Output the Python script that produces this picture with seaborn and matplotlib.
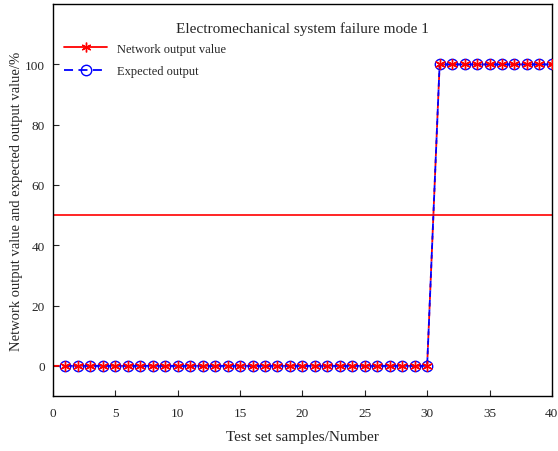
import numpy as np
import matplotlib
matplotlib.use("Agg")
import matplotlib.pyplot as plt
from matplotlib.lines import Line2D
import seaborn as sns

# data
samples = list(range(1, 41))
network_output = [0] * 30 + [100] * 10
expected_output = [0] * 30 + [100] * 10
threshold = 50

sns.set_style("ticks")
plt.rcParams['font.family'] = ['Liberation Serif', 'DejaVu Serif']

fig = plt.figure(figsize=(5.58, 4.52), dpi=100)
ax = fig.add_axes([0.095, 0.1217, 0.894, 0.867])

star = (6, 2, 0)

# network output line starts at 0 (no marker there)
net_x = [0] + samples
net_y = [0] + network_output
sns.lineplot(x=net_x, y=net_y, ax=ax, color="red", lw=1.3,
             linestyle="--", dashes=(5, 3), legend=False)
sns.lineplot(x=samples, y=expected_output, ax=ax, color="blue", lw=1.3,
             linestyle="--", dashes=(5, 3), marker="o", markersize=7.5,
             markerfacecolor="none", markeredgecolor="blue", markeredgewidth=1.0,
             legend=False)
# red markers on top
sns.scatterplot(x=samples, y=network_output, ax=ax, color="red", marker=star,
                s=50, linewidth=1.0, edgecolor="red", zorder=5, legend=False)
ax.axhline(threshold, color="red", lw=1.2)

ax.set_xlim(0, 40)
ax.set_ylim(-10, 120)
ax.set_xticks(range(0, 41, 5))
ax.set_yticks(range(0, 101, 20))
ax.tick_params(direction="in", length=4, labelsize=9.5, pad=8, top=False, right=False)
ax.tick_params(axis="y", pad=6)
for s in ax.spines.values():
    s.set_linewidth(1.0)
    s.set_color("black")

ax.set_xlabel("Test set samples/Number", fontsize=11, labelpad=8)
ax.set_ylabel("Network output value and expected output value/%", fontsize=10.5, labelpad=1)
ax.text(0.5, 0.94, "Electromechanical system failure mode 1", transform=ax.transAxes,
        ha="center", va="center", fontsize=11)

handles = [
    Line2D([], [], color="red", lw=1.3, marker=star, markersize=7, markeredgewidth=1.0),
    Line2D([], [], color="blue", lw=1.3, linestyle="--", dashes=(5, 3), marker="o",
           markersize=7.5, markerfacecolor="none", markeredgewidth=1.0),
]
ax.legend(handles, ["Network output value", "Expected output"],
          loc="upper left", bbox_to_anchor=(0.0, 0.93), frameon=False,
          fontsize=9, handlelength=3.4, labelspacing=0.85)

fig.savefig("out.png", dpi=100)
